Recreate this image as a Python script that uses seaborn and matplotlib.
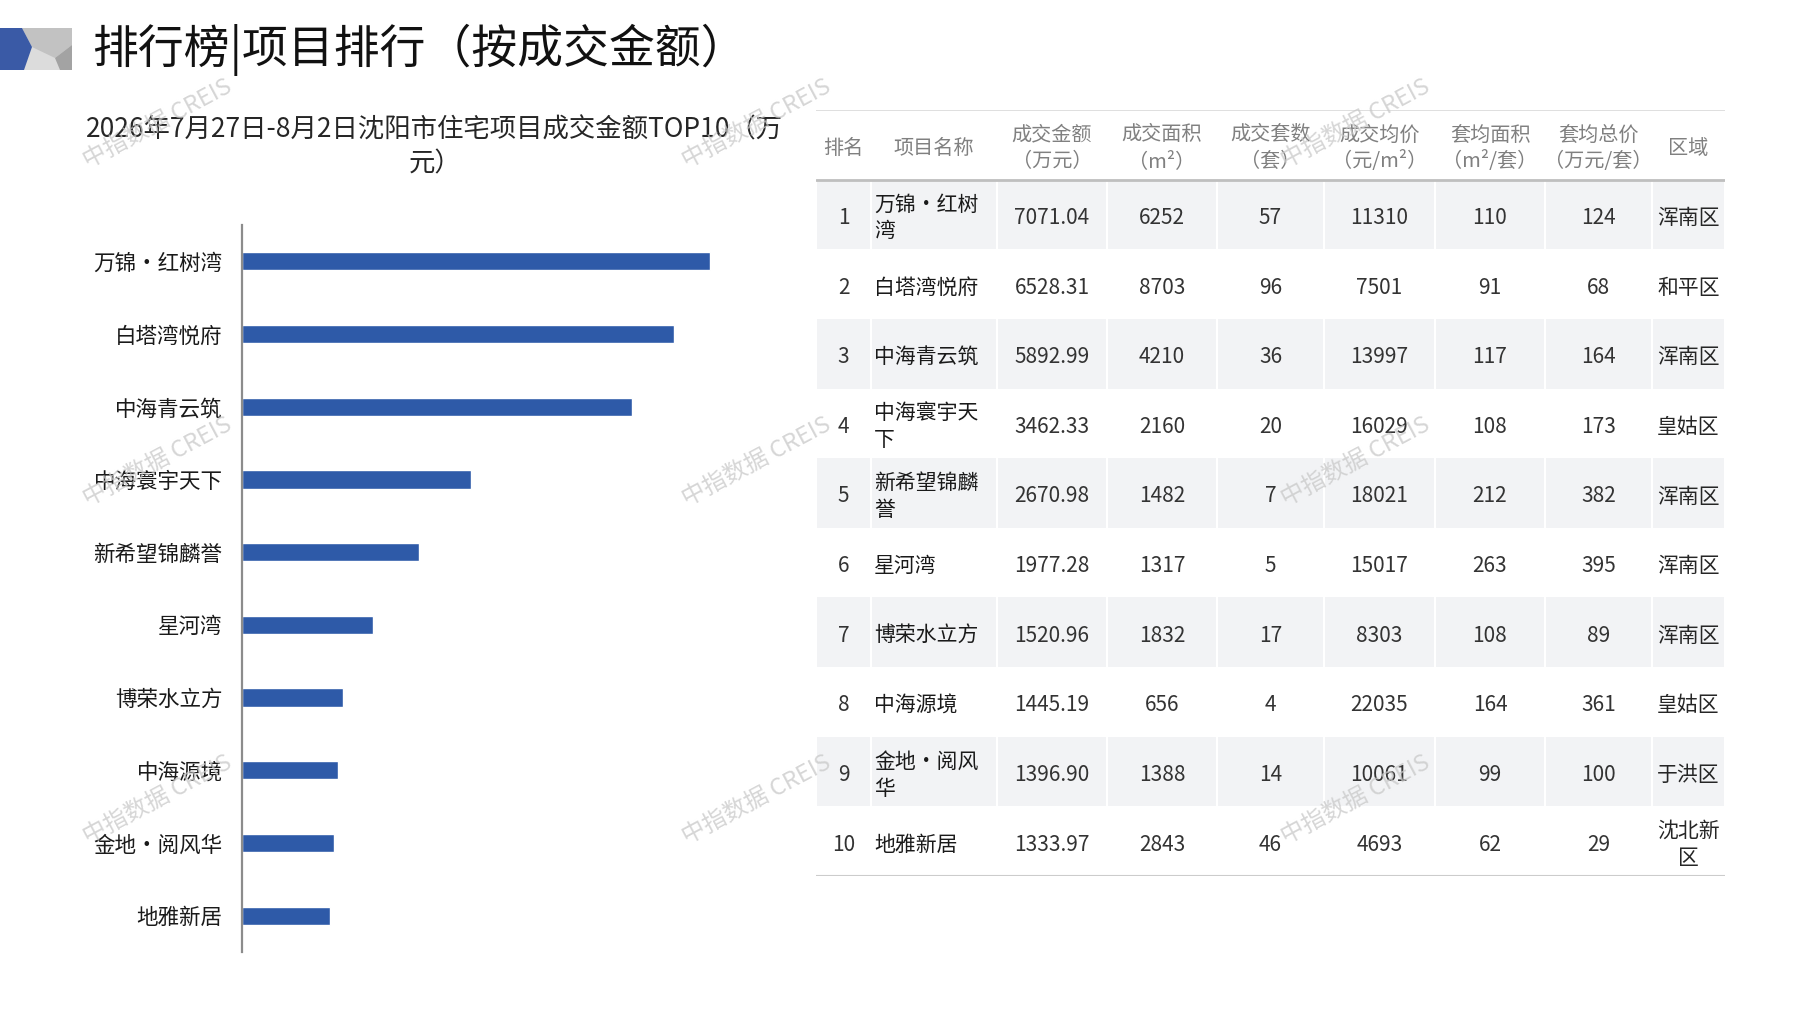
import textwrap
import numpy as np
import pandas as pd
import seaborn as sns
import matplotlib
matplotlib.use("Agg")
import matplotlib.pyplot as plt
from matplotlib.patches import Polygon, Rectangle

# ---------------- data ---------------- #
ranks = [1, 2, 3, 4, 5, 6, 7, 8, 9, 10]
names = ['万锦·红树湾', '白塔湾悦府', '中海青云筑', '中海寰宇天下', '新希望锦麟誉',
         '星河湾', '博荣水立方', '中海源境', '金地·阅风华', '地雅新居']
amount = [7071.04, 6528.31, 5892.99, 3462.33, 2670.98, 1977.28, 1520.96, 1445.19, 1396.90, 1333.97]
area = [6252, 8703, 4210, 2160, 1482, 1317, 1832, 656, 1388, 2843]
units = [57, 96, 36, 20, 7, 5, 17, 4, 14, 46]
avg_price = [11310, 7501, 13997, 16029, 18021, 15017, 8303, 22035, 10061, 4693]
avg_area = [110, 91, 117, 108, 212, 263, 108, 164, 99, 62]
avg_total = [124, 68, 164, 173, 382, 395, 89, 361, 100, 29]
regions = ['浑南区', '和平区', '浑南区', '皇姑区', '浑南区', '浑南区', '浑南区', '皇姑区', '于洪区', '沈北新区']

headers = ['排名', '项目名称', '成交金额\n（万元）', '成交面积\n（m²）', '成交套数\n（套）',
           '成交均价\n（元/m²）', '套均面积\n（m²/套）', '套均总价\n（万元/套）', '区域']

title = '排行榜|项目排行（按成交金额）'
subtitle = '2026年7月27日-8月2日沈阳市住宅项目成交金额TOP10（万\n元）'
watermark = '中指数据 CREIS'

df = pd.DataFrame({'name': names, 'amount': amount})

# ---------------- style ---------------- #
sns.set_style('white')
plt.rcParams['font.family'] = ['Noto Sans CJK SC', 'DejaVu Sans']

W, H = 1797, 1010
fig = plt.figure(figsize=(W / 100, H / 100), dpi=100)


def fx(x):
    return x / W


def fy(y):
    return 1 - y / H


# header decoration (top-left corner)
deco = [
    ([(0, 28), (72, 28), (72, 70), (0, 70)], '#dcdcdc'),
    ([(22, 28), (72, 28), (72, 45), (55, 58), (32, 47)], '#c2c2c2'),
    ([(55, 58), (72, 45), (72, 70), (60, 70)], '#a3a3a3'),
    ([(0, 28), (22, 28), (32, 47), (24, 70), (0, 70)], '#3a5aa6'),
]
for pts, c in deco:
    fig.add_artist(Polygon([(fx(a), fy(b)) for a, b in pts], closed=True,
                           facecolor=c, edgecolor='none', transform=fig.transFigure))

fig.text(fx(92), fy(50), title, fontsize=33, va='center', ha='left', color='#111111')
fig.text(fx(435), fy(147), subtitle, fontsize=19, va='center', ha='center',
         multialignment='center', linespacing=1.3, color='#262626')

# ---------------- bar chart ---------------- #
ax = fig.add_axes([fx(242), fy(952), fx(8000 * 0.06618), (952 - 225) / H])
sns.barplot(data=df, x='amount', y='name', orient='h', color='#2e5aa8',
            saturation=1, width=0.25, ax=ax)
ax.set_xlim(0, 8000)
ax.set_ylim(9.5, -0.5)
ax.set_xlabel('')
ax.set_ylabel('')
ax.set_xticks([])
for s in ['top', 'right', 'bottom']:
    ax.spines[s].set_visible(False)
ax.spines['left'].set_color('#8c8c8c')
ax.spines['left'].set_linewidth(1.6)
ax.set_yticks(np.arange(-0.5, 10, 1), minor=True)
ax.tick_params(axis='y', which='major', length=0, pad=14, labelsize=15.5, labelcolor='#1a1a1a')
ax.tick_params(axis='y', which='minor', direction='in', length=4, width=1.5, color='#8c8c8c')
ax.set_facecolor('none')

# ---------------- table ---------------- #
edges = [0, 55, 181, 291, 401, 508, 619, 729, 836, 909]
tx = fig.add_axes([fx(816), fy(876), fx(909), (876 - 110) / H])
tx.set_xlim(0, 909)
tx.set_ylim(10, -1)
tx.axis('off')

centers = [(edges[i] + edges[i + 1]) / 2 for i in range(len(edges) - 1)]

for r in range(0, 10, 2):
    for i in range(len(edges) - 1):
        tx.add_patch(Rectangle((edges[i] + 1, r), edges[i + 1] - edges[i] - 2, 1,
                               facecolor='#f2f3f5', edgecolor='none', zorder=0))

tx.plot([0, 909], [-1, -1], color='#d9d9d9', lw=1.2)
tx.plot([0, 909], [0, 0], color='#bfbfbf', lw=2)
tx.plot([0, 909], [10, 10], color='#cccccc', lw=1.5)

for i, h in enumerate(headers):
    tx.text(centers[i], -0.45, h, ha='center', va='center', fontsize=14.5,
            color='#808080', linespacing=1.35)

for r in range(10):
    y = r + 0.55
    cells = [str(ranks[r]), textwrap.fill(names[r], 5), f'{amount[r]:.2f}', str(area[r]),
             str(units[r]), str(avg_price[r]), str(avg_area[r]), str(avg_total[r]),
             textwrap.fill(regions[r], 3)]
    for i, c in enumerate(cells):
        if i == 1:
            tx.text(edges[1] + 3, y, c, ha='left', va='center', fontsize=15,
                    color='#1a1a1a', linespacing=1.3)
        else:
            tx.text(centers[i], y, c, ha='center', va='center', fontsize=15,
                    color='#333333' if i != 8 else '#262626', linespacing=1.3)

# ---------------- watermarks ---------------- #
for wy in [124, 462, 800]:
    for wx in [158, 757, 1356]:
        fig.text(fx(wx), fy(wy), watermark, fontsize=17, rotation=28, ha='center',
                 va='center', color='#c8c8c8', alpha=0.75, zorder=10)

fig.savefig('out.png', dpi=100, facecolor='white')
